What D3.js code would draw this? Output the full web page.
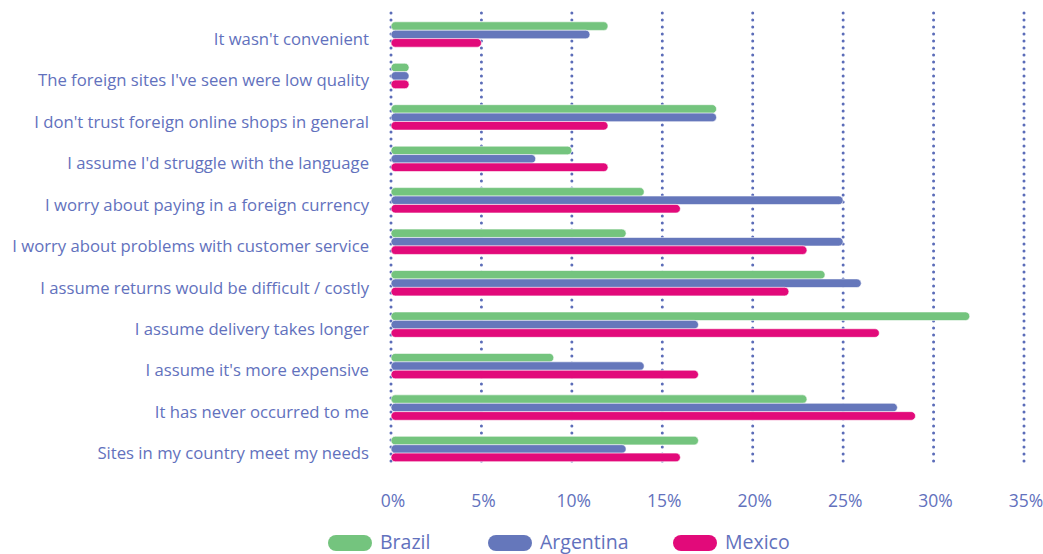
<!DOCTYPE html>
<html>
<head>
<meta charset="utf-8">
<script src="https://cdn.jsdelivr.net/npm/d3@7"></script>
<style>
  body { margin: 0; background: #fff; }
  text { font-family: "Open Sans", Lato, sans-serif; fill: #6271bd; }
</style>
</head>
<body>
<div id="chart"></div>
<script>
// reasons, top to bottom
var reasons = [
  "It wasn't convenient",
  "The foreign sites I've seen were low quality",
  "I don't trust foreign online shops in general",
  "I assume I'd struggle with the language",
  "I worry about paying in a foreign currency",
  "I worry about problems with customer service",
  "I assume returns would be difficult / costly",
  "I assume delivery takes longer",
  "I assume it's more expensive",
  "It has never occurred to me",
  "Sites in my country meet my needs"
];
var countries = ["Brazil", "Argentina", "Mexico"];
var brazil    = [12, 1, 18, 10, 14, 13, 24, 32,  9, 23, 17];
var argentina = [11, 1, 18,  8, 25, 25, 26, 17, 14, 28, 13];
var mexico    = [ 5, 1, 12, 12, 16, 23, 22, 27, 17, 29, 16];
var ticks = [0, 5, 10, 15, 20, 25, 30, 35];

var colors = { Brazil: "#74c47e", Argentina: "#6577bb", Mexico: "#e20a7a" };

var W = 1043, H = 554;
var margin = {top: 13, left: 391, right: 19};

var svg = d3.select("#chart").append("svg")
    .attr("width", W)
    .attr("height", H);

var x = d3.scaleLinear()
    .domain([0, 35])
    .range([margin.left, W - margin.right]);

// group centres
var y = d3.scalePoint()
    .domain(reasons)
    .range([34.5, 449]);

var bandStep = 8.4, barH = 8.6;
var yc = d3.scalePoint()
    .domain(countries)
    .range([-bandStep, bandStep]);

// dotted gridlines
svg.append("g").selectAll("line")
    .data(ticks)
  .enter().append("line")
    .attr("x1", function(d) { return x(d); })
    .attr("x2", function(d) { return x(d); })
    .attr("y1", 13)
    .attr("y2", 465)
    .attr("stroke", "#5b6cb8")
    .attr("stroke-width", 3)
    .attr("stroke-linecap", "round")
    .attr("stroke-dasharray", "0,7");

// tick labels
svg.append("g").selectAll("text")
    .data(ticks)
  .enter().append("text")
    .attr("x", function(d) { return x(d) + 2; })
    .attr("y", 507)
    .attr("text-anchor", "middle")
    .style("font-size", "17.5px")
    .text(function(d) { return d + "%"; });

// category labels
svg.append("g").selectAll("text")
    .data(reasons)
  .enter().append("text")
    .attr("x", 369)
    .attr("y", function(d) { return y(d) + 4.5; })
    .attr("dy", "0.35em")
    .attr("text-anchor", "end")
    .style("font-size", "16.7px")
    .text(function(d) { return d; });

// bars
var series = [
  {name: "Brazil", values: brazil},
  {name: "Argentina", values: argentina},
  {name: "Mexico", values: mexico}
];

series.forEach(function(s) {
  svg.append("g").selectAll("rect")
      .data(s.values)
    .enter().append("rect")
      .attr("x", x(0))
      .attr("y", function(d, i) { return y(reasons[i]) + yc(s.name) - barH / 2; })
      .attr("width", function(d) { return x(d) - x(0); })
      .attr("height", barH)
      .attr("rx", barH / 2)
      .attr("fill", colors[s.name])
      .attr("stroke", "#fff")
      .attr("stroke-width", 0.6);
});

// legend
var legendX = [328, 488, 673];
var leg = svg.append("g").selectAll("g")
    .data(countries)
  .enter().append("g")
    .attr("transform", function(d, i) { return "translate(" + legendX[i] + ",543)"; });

leg.append("rect")
    .attr("x", 0)
    .attr("y", -8)
    .attr("width", 44)
    .attr("height", 16)
    .attr("rx", 8)
    .attr("fill", function(d) { return colors[d]; });

leg.append("text")
    .attr("x", 52)
    .attr("y", 5.5)
    .style("font-size", "19.5px")
    .text(function(d) { return d; });
</script>
</body>
</html>
